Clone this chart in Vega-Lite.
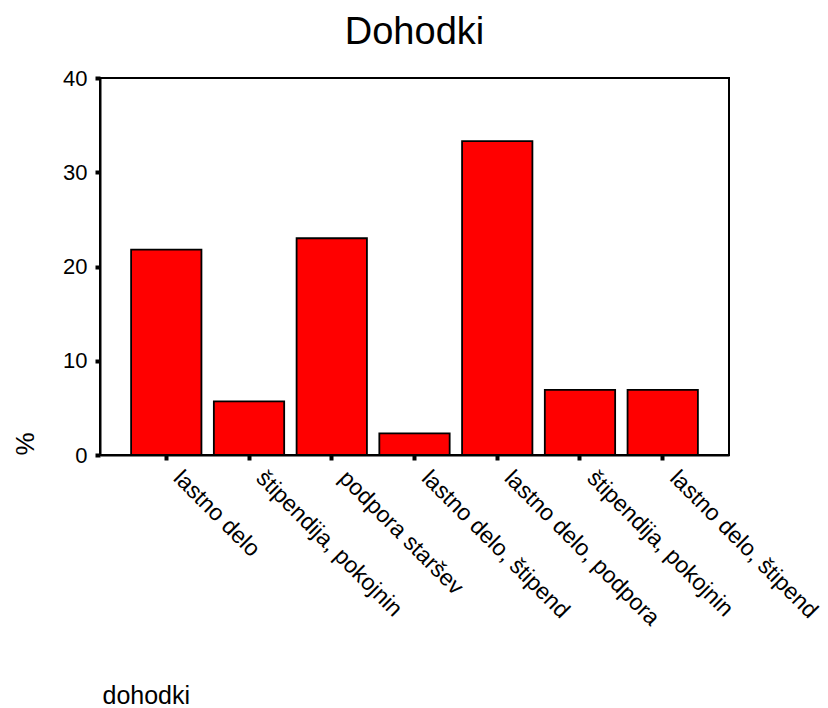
{
  "$schema": "https://vega.github.io/schema/vega-lite/v6.json",
  "width": 629,
  "height": 377,
  "autosize": "none",
  "padding": {"left": 100, "top": 78, "right": 99, "bottom": 253},
  "background": "white",
  "title": {
    "text": "Dohodki",
    "fontSize": 38,
    "font": "Liberation Sans",
    "fontWeight": "normal",
    "color": "black",
    "anchor": "middle",
    "frame": "group",
    "offset": 15
  },
  "data": {
    "values": [
      {"kategorija": "lastno delo|1", "odstotek": 21.8},
      {"kategorija": "štipendija, pokojnin|2", "odstotek": 5.7},
      {"kategorija": "podpora staršev|3", "odstotek": 23.0},
      {"kategorija": "lastno delo, štipend|4", "odstotek": 2.3},
      {"kategorija": "lastno delo, podpora|5", "odstotek": 33.3},
      {"kategorija": "štipendija, pokojnin|6", "odstotek": 6.9},
      {"kategorija": "lastno delo, štipend|7", "odstotek": 6.9}
    ]
  },
  "mark": {"type": "bar", "color": "#ff0000", "stroke": "black", "strokeWidth": 1.8},
  "encoding": {
    "x": {
      "field": "kategorija",
      "type": "nominal",
      "sort": null,
      "title": "dohodki",
      "scale": {"paddingInner": 0.15, "paddingOuter": 0.376},
      "axis": {
        "labelExpr": "split(datum.value, '|')[0]",
        "labelAngle": 45,
        "labelAlign": "left",
        "labelBaseline": "alphabetic",
        "labelPadding": 19,
        "labelOffset": 6,
        "labelFontSize": 23,
        "labelOverlap": false,
        "labelLimit": 400,
        "tickSize": 5,
        "tickWidth": 4,
        "titleAnchor": "start",
        "titleAlign": "left",
        "titleBaseline": "alphabetic",
        "titleX": 2,
        "titleY": 248,
        "titleFontSize": 25
      }
    },
    "y": {
      "field": "odstotek",
      "type": "quantitative",
      "title": "%",
      "scale": {"domain": [0, 40], "nice": false},
      "axis": {
        "values": [0, 10, 20, 30, 40],
        "labelFontSize": 22,
        "labelPadding": 8,
        "tickSize": 5,
        "tickWidth": 4,
        "titleAngle": -90,
        "titleAnchor": "start",
        "titleAlign": "left",
        "titleBaseline": "alphabetic",
        "titleX": -67,
        "titleY": 377,
        "titleFontSize": 26
      }
    }
  },
  "config": {
    "font": "Liberation Sans",
    "view": {"stroke": "black", "strokeWidth": 2},
    "axis": {
      "grid": false,
      "domainColor": "black",
      "domainWidth": 2,
      "tickColor": "black",
      "labelColor": "black",
      "titleColor": "black",
      "labelFont": "Liberation Sans",
      "titleFont": "Liberation Sans",
      "titleFontWeight": "normal"
    }
  }
}
